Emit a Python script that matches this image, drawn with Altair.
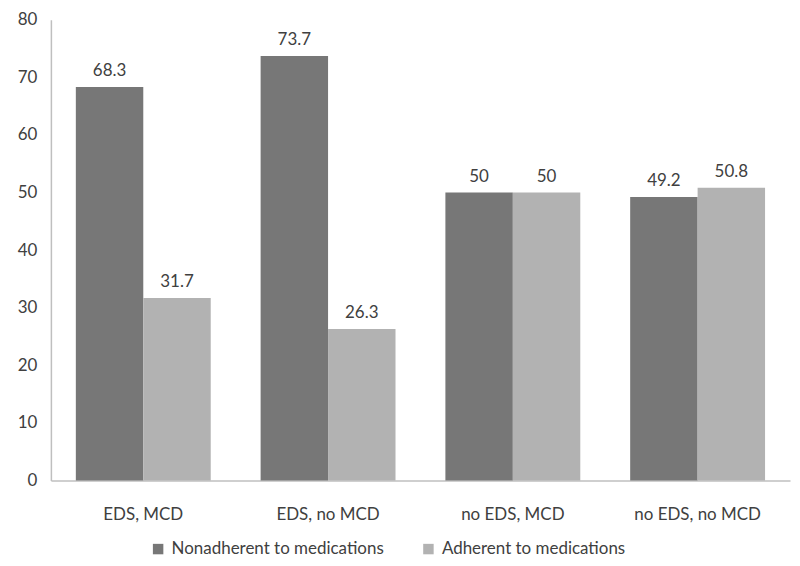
import altair as alt
import pandas as pd

categories = ["EDS, MCD", "EDS, no MCD", "no EDS, MCD", "no EDS, no MCD"]
series = ["Nonadherent to medications", "Adherent to medications"]
nonadherent = [68.3, 73.7, 50, 49.2]
adherent = [31.7, 26.3, 50, 50.8]

rows = []
for c, a, b in zip(categories, nonadherent, adherent):
    rows.append({"cat": c, "series": series[0], "value": a, "label": f"{a:g}"})
    rows.append({"cat": c, "series": series[1], "value": b, "label": f"{b:g}"})
df = pd.DataFrame(rows)

FONT = "Lato"
FS = 17
TXT = "#404040"

x = alt.X("cat:N", sort=categories, title=None,
          scale=alt.Scale(paddingInner=0.27, paddingOuter=0.135),
          axis=alt.Axis(labelAngle=0, ticks=False, labelPadding=26, labelFontSize=FS,
                        labelColor=TXT, labelFont=FONT, domainColor="#bfbfbf", domainWidth=1.5))
xo = alt.XOffset("series:N", sort=series, scale=alt.Scale(paddingInner=0, paddingOuter=0))

bars = alt.Chart(df).mark_bar().encode(
    x=x,
    xOffset=xo,
    y=alt.Y("value:Q", title=None,
            scale=alt.Scale(domain=[0, 80], nice=False),
            axis=alt.Axis(values=list(range(0, 81, 10)), grid=False, ticks=False,
                          labelPadding=14, labelFontSize=FS, labelColor=TXT, labelFont=FONT,
                          domainColor="#bfbfbf", domainWidth=1.5)),
    color=alt.Color("series:N", sort=series,
                    scale=alt.Scale(domain=series, range=["#777777", "#b2b2b2"]),
                    legend=alt.Legend(title=None, orient="none", legendX=99, legendY=522,
                                      direction="horizontal", symbolType="square",
                                      symbolSize=110, symbolStrokeWidth=0, labelLimit=0,
                                      labelFontSize=FS, labelColor=TXT, labelFont=FONT,
                                      columnPadding=36, labelOffset=5)),
)

labels = alt.Chart(df).mark_text(baseline="bottom", dy=-7, fontSize=FS, color=TXT, font=FONT).encode(
    x=x,
    xOffset=xo,
    y=alt.Y("value:Q"),
    text="label:N",
)

chart = (bars + labels).properties(width=741, height=462, background="white",
                                  padding={"left": 9, "top": 2, "right": 2, "bottom": 0}) \
    .configure_view(stroke=None)

chart.save("out.html", embed_options={"renderer": "svg", "actions": False})
